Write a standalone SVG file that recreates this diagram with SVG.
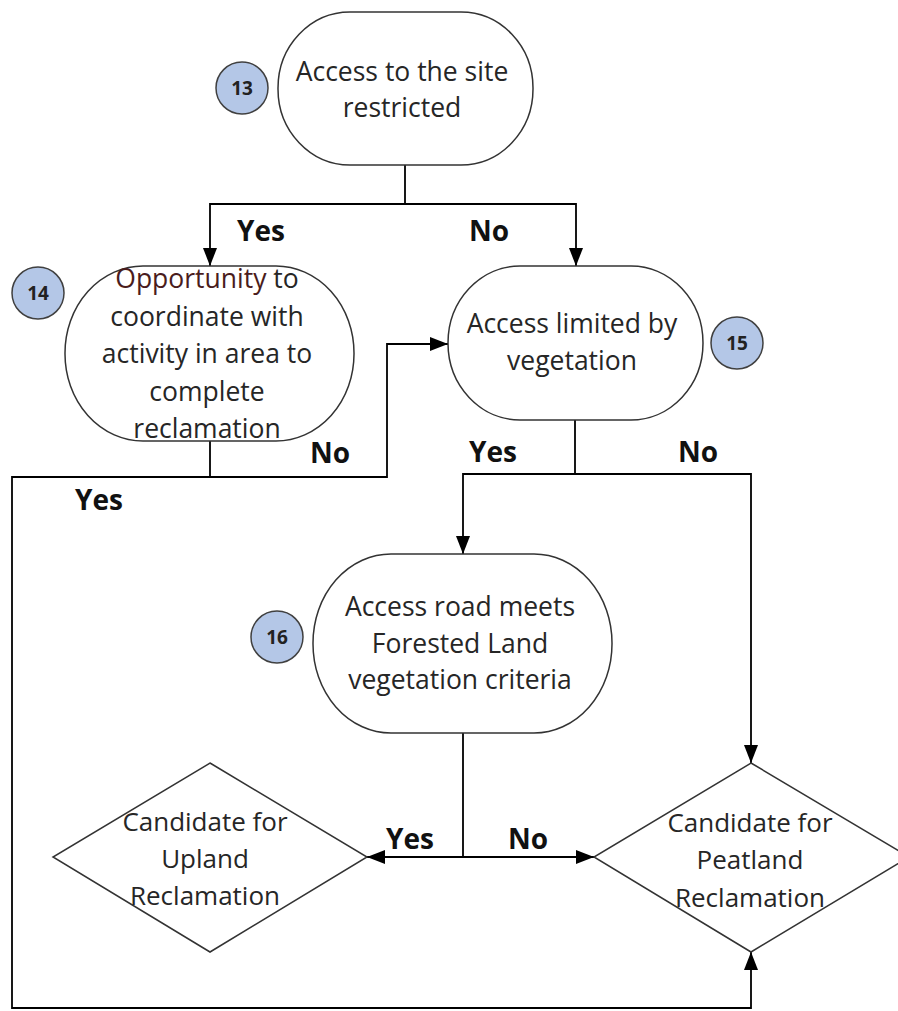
<svg xmlns="http://www.w3.org/2000/svg" width="898" height="1011" viewBox="0 0 898 1011">
<defs>
<marker id="arr" markerUnits="userSpaceOnUse" markerWidth="18" markerHeight="14" refX="18" refY="7" orient="auto">
<path d="M0,0 L18,7 L0,14 z" fill="#000"/>
</marker>
<style>
.node{fill:#fff;stroke:#333;stroke-width:1.5}
.t{font-family:"Open Sans","DejaVu Sans",sans-serif;font-size:26.5px;fill:#262626;text-anchor:middle}
.d{font-family:"Open Sans","DejaVu Sans",sans-serif;font-size:26px;fill:#262626;text-anchor:middle}
.lbl{font-family:"Open Sans","DejaVu Sans",sans-serif;font-size:28px;font-weight:bold;fill:#111}
.badge{fill:#b4c7e7;stroke:#404040;stroke-width:1.5}
.bn{font-family:"Open Sans","DejaVu Sans",sans-serif;font-size:19px;font-weight:bold;fill:#222;text-anchor:middle}
.c{fill:none;stroke:#000;stroke-width:1.8}
</style>
</defs>
<rect width="898" height="1011" fill="#fff"/>
<g id="connectors">
<path class="c" d="M405,165 V204 H210 V266" marker-end="url(#arr)"/>
<path class="c" d="M405,204 H576 V266" marker-end="url(#arr)"/>
<path class="c" d="M210,441 V477 H387 V344 H448" marker-end="url(#arr)"/>
<path class="c" d="M210,477 H12 V1008 H751 V952" marker-end="url(#arr)"/>
<path class="c" d="M575,420 V474 H463 V554" marker-end="url(#arr)"/>
<path class="c" d="M575,474 H751 V763" marker-end="url(#arr)"/>
<path class="c" d="M463,733 V857 H367" marker-end="url(#arr)"/>
<path class="c" d="M463,857 H594" marker-end="url(#arr)"/>
<text class="lbl" x="237" y="241">Yes</text>
<text class="lbl" x="469" y="241">No</text>
<text class="lbl" x="310" y="463">No</text>
<text class="lbl" x="75" y="510">Yes</text>
<text class="lbl" x="469" y="462">Yes</text>
<text class="lbl" x="678" y="462">No</text>
<text class="lbl" x="386" y="849">Yes</text>
<text class="lbl" x="508" y="849">No</text>
</g>
<g id="node13">
<rect class="node" x="278" y="12" width="255" height="153" rx="72" ry="76"/>
<text class="t" x="402" y="81">Access to the site</text>
<text class="t" x="402" y="117">restricted</text>
<circle class="badge" cx="242" cy="88" r="26"/>
<text class="bn" x="242" y="95">13</text>
</g>
<g id="node14">
<rect class="node" x="65" y="266" width="289" height="175" rx="78" ry="87"/>
<text class="t" x="207" y="288"><tspan fill="#4a1c1c">Opportunity</tspan> to</text>
<text class="t" x="207" y="326">coordinate with</text>
<text class="t" x="207" y="363">activity in area to</text>
<text class="t" x="207" y="401">complete</text>
<text class="t" x="207" y="438">reclamation</text>
<circle class="badge" cx="38" cy="293" r="26"/>
<text class="bn" x="38" y="300">14</text>
</g>
<g id="node15">
<rect class="node" x="448" y="266" width="255" height="154" rx="72" ry="77"/>
<text class="t" x="572" y="333">Access limited by</text>
<text class="t" x="572" y="370">vegetation</text>
<circle class="badge" cx="737" cy="343" r="26"/>
<text class="bn" x="737" y="350">15</text>
</g>
<g id="node16">
<rect class="node" x="313" y="554" width="299" height="179" rx="78" ry="89"/>
<text class="t" x="460" y="616">Access road meets</text>
<text class="t" x="460" y="653">Forested Land</text>
<text class="t" x="460" y="689">vegetation criteria</text>
<circle class="badge" cx="277" cy="637" r="26"/>
<text class="bn" x="277" y="644">16</text>
</g>
<g id="upland">
<polygon class="node" points="210,763 367,857 210,952 53,857"/>
<text class="d" x="205" y="831">Candidate for</text>
<text class="d" x="205" y="868">Upland</text>
<text class="d" x="205" y="905">Reclamation</text>
</g>
<g id="peatland">
<polygon class="node" points="751,763 909,857 751,952 594,857"/>
<text class="d" x="750" y="832">Candidate for</text>
<text class="d" x="750" y="869">Peatland</text>
<text class="d" x="750" y="907">Reclamation</text>
</g>
</svg>
